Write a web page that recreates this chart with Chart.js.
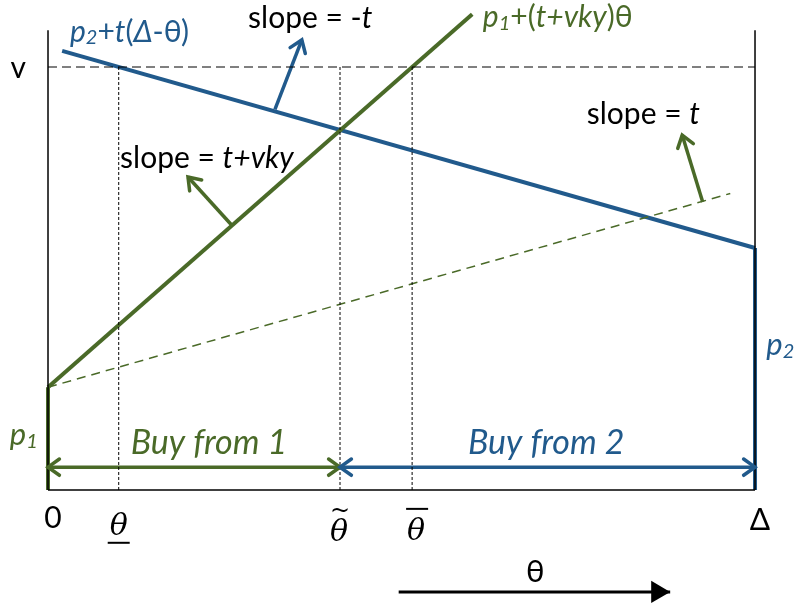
<!DOCTYPE html>
<html>
<head>
<meta charset="utf-8">
<script src="https://cdn.jsdelivr.net/npm/chart.js@4/dist/chart.umd.min.js"></script>
<style>
  html, body { margin: 0; padding: 0; background: #fff; }
  canvas { display: block; }
</style>
</head>
<body>
<canvas id="grafico" width="798" height="607"></canvas>
<script>
// values (theta runs 0..Δ=10, v = 10)
const p1 = 2.43;
const p2 = 5.72;
const vLevel = 10;
const deltaEnd = 10;
const thetaMarks = [1.0, 4.13, 5.15]; // θ under, θ tilde, θ bar
const frameTop = 10.87;

const firmOneX = [0, 6.0];
const firmOneY = [2.43, 11.25];
const firmTwoX = [0.2, 10];
const firmTwoY = [10.38, 5.72];
const slopeTX = [0, 9.65];
const slopeTY = [2.43, 7.01];

const buyArrowY = 0.54;
const thetaArrowX = [4.96, 8.8];
const thetaArrowY = -2.41;

// small pointer arrows [x0, y0, x1, y1]
const pointerBlue = [3.21, 9.0, 3.59, 10.64];
const pointerGreen1 = [2.60, 6.26, 1.98, 7.40];
const pointerGreen2 = [9.26, 6.81, 8.97, 8.39];

const azul = "#215A8C";
const verde = "#4A6A28";
const negro = "#000";
const fuente = "Lato, 'Open Sans', sans-serif";
const serif = "'DejaVu Serif', 'Liberation Serif', serif";

function pts(xs, ys) {
  return xs.map((x, i) => ({ x, y: ys[i] }));
}

function linea(xs, ys, color, width, extra = {}) {
  return Object.assign({
    data: pts(xs, ys),
    showLine: true,
    borderColor: color,
    borderWidth: width,
    pointRadius: 0,
    fill: false,
    borderCapStyle: "butt"
  }, extra);
}

const datasets = [
  // frame
  linea([0, 0], [0, frameTop], negro, 1.5),
  linea([deltaEnd, deltaEnd], [0, frameTop], negro, 1.5),
  linea([0, deltaEnd], [0, 0], negro, 1.5),
  // v level
  linea([0, deltaEnd], [vLevel, vLevel], negro, 1, { borderDash: [9, 5] }),
  // theta marks
  ...thetaMarks.map((t) => linea([t, t], [0, vLevel], negro, 1, { borderDash: [3, 2] })),
  // slope t dashed
  linea(slopeTX, slopeTY, verde, 1.5, { borderDash: [9, 6] }),
  // main lines
  linea(firmOneX, firmOneY, verde, 4),
  linea(firmTwoX, firmTwoY, azul, 4),
  linea([0, 0], [0, p1], verde, 4),
  linea([deltaEnd, deltaEnd], [0, p2], azul, 4),
  // buy arrows
  linea([0, thetaMarks[1]], [buyArrowY, buyArrowY], verde, 3.5, { arrow: "both" }),
  linea([thetaMarks[1], deltaEnd], [buyArrowY, buyArrowY], azul, 3.5, { arrow: "both" }),
  // pointers
  linea([pointerBlue[0], pointerBlue[2]], [pointerBlue[1], pointerBlue[3]], azul, 3.5, { arrow: "end" }),
  linea([pointerGreen1[0], pointerGreen1[2]], [pointerGreen1[1], pointerGreen1[3]], verde, 3.5, { arrow: "end" }),
  linea([pointerGreen2[0], pointerGreen2[2]], [pointerGreen2[1], pointerGreen2[3]], verde, 3.5, { arrow: "end" }),
  // theta direction arrow
  linea(thetaArrowX, [thetaArrowY, thetaArrowY], negro, 3, { arrow: "end", headFill: true })
];

// rich text labels: [x, y, align, size, color, segments]
const etiquetas = [
  [-0.42, 9.98, "center", 30, negro, [["v", "n"]]],
  [0.31, 10.83, "left", 30, azul, [["p", "i"], ["2", "si"], ["+", "n"], ["t", "i"], ["(", "n"], ["Δ", "i"], ["-θ)", "n"]]],
  [2.83, 11.16, "left", 30, negro, [["slope = -", "n"], ["t", "i"]]],
  [6.15, 11.18, "left", 30, verde, [["p", "i"], ["1", "si"], ["+(", "n"], ["t+vky", "i"], [")θ", "n"]]],
  [1.02, 7.85, "left", 30, negro, [["slope = ", "n"], ["t+vky", "i"]]],
  [7.62, 8.87, "left", 30, negro, [["slope = ", "n"], ["t", "i"]]],
  [-0.54, 1.30, "left", 31, verde, [["p", "i"], ["1", "si"]]],
  [10.16, 3.43, "left", 31, azul, [["p", "i"], ["2", "si"]]],
  [1.17, 1.11, "left", 34, verde, [["Buy from 1", "i"]]],
  [5.94, 1.11, "left", 34, azul, [["Buy from 2", "i"]]],
  [0.07, -0.66, "center", 30, negro, [["0", "n"]]],
  [10.07, -0.71, "center", 30, negro, [["Δ", "n"]]],
  [6.89, -1.94, "center", 31, negro, [["θ", "n"]]]
];

function fontFor(style, size) {
  const italic = style.includes("i") ? "italic " : "";
  const s = style.includes("s") ? Math.round(size * 0.66) : size;
  return `${italic}${s}px ${fuente}`;
}

function drawRich(ctx, x, y, align, size, color, segs) {
  ctx.save();
  ctx.fillStyle = color;
  ctx.textBaseline = "middle";
  ctx.textAlign = "left";
  let total = 0;
  segs.forEach(([t, st]) => {
    ctx.font = fontFor(st, size);
    total += ctx.measureText(t).width;
  });
  let cx = align === "center" ? x - total / 2 : x;
  segs.forEach(([t, st]) => {
    ctx.font = fontFor(st, size);
    const dy = st.includes("s") ? size * 0.2 : 0;
    ctx.fillText(t, cx, y + dy);
    cx += ctx.measureText(t).width;
  });
  ctx.restore();
}

function drawHead(ctx, x0, y0, x1, y1, color, width, filled) {
  const a = Math.atan2(y1 - y0, x1 - x0);
  const len = filled ? 22 : 14;
  const spread = filled ? 0.53 : 0.62;
  ctx.save();
  ctx.strokeStyle = color;
  ctx.fillStyle = color;
  ctx.lineWidth = width;
  ctx.lineCap = "round";
  ctx.lineJoin = "miter";
  ctx.beginPath();
  ctx.moveTo(x1 - len * Math.cos(a - spread), y1 - len * Math.sin(a - spread));
  ctx.lineTo(x1, y1);
  ctx.lineTo(x1 - len * Math.cos(a + spread), y1 - len * Math.sin(a + spread));
  if (filled) {
    ctx.closePath();
    ctx.fill();
  } else {
    ctx.stroke();
  }
  ctx.restore();
}

const dibujoExtra = {
  id: "dibujoExtra",
  afterDatasetsDraw(chart) {
    const { ctx } = chart;
    const sx = chart.scales.x;
    const sy = chart.scales.y;

    chart.data.datasets.forEach((ds) => {
      if (!ds.arrow) return;
      const a = ds.data[0];
      const b = ds.data[ds.data.length - 1];
      const ax = sx.getPixelForValue(a.x), ay = sy.getPixelForValue(a.y);
      const bx = sx.getPixelForValue(b.x), by = sy.getPixelForValue(b.y);
      drawHead(ctx, ax, ay, bx, by, ds.borderColor, ds.borderWidth, ds.headFill);
      if (ds.arrow === "both") drawHead(ctx, bx, by, ax, ay, ds.borderColor, ds.borderWidth, false);
    });

    etiquetas.forEach(([x, y, align, size, color, segs]) => {
      drawRich(ctx, sx.getPixelForValue(x), sy.getPixelForValue(y), align, size, color, segs);
    });

    // theta marks with decorations
    const yLab = [-0.87, -1.02, -0.99];
    const xOff = [0, -1, 4];
    thetaMarks.forEach((t, i) => {
      const px = sx.getPixelForValue(t) + xOff[i];
      const py = sy.getPixelForValue(yLab[i]);
      ctx.save();
      ctx.fillStyle = negro;
      ctx.strokeStyle = negro;
      ctx.textAlign = "center";
      ctx.textBaseline = "middle";
      ctx.font = `italic 30px ${serif}`;
      ctx.fillText("θ", px, py);
      ctx.lineWidth = 2;
      if (i === 0) {
        ctx.beginPath();
        ctx.moveTo(px - 11, py + 16);
        ctx.lineTo(px + 11, py + 16);
        ctx.stroke();
      } else if (i === 1) {
        ctx.font = `24px ${serif}`;
        ctx.fillText("~", px + 1, py - 21);
      } else {
        ctx.beginPath();
        ctx.moveTo(px - 10, py - 23);
        ctx.lineTo(px + 12, py - 23);
        ctx.stroke();
      }
      ctx.restore();
    });
  }
};

new Chart(document.getElementById("grafico"), {
  type: "scatter",
  data: { datasets },
  options: {
    responsive: false,
    animation: false,
    devicePixelRatio: 1,
    layout: { padding: 0 },
    plugins: { legend: { display: false }, tooltip: { enabled: false } },
    scales: {
      x: { type: "linear", min: -0.679, max: 10.608, display: false },
      y: { type: "linear", min: -2.766, max: 11.584, display: false }
    }
  },
  plugins: [dibujoExtra]
});
</script>
</body>
</html>
